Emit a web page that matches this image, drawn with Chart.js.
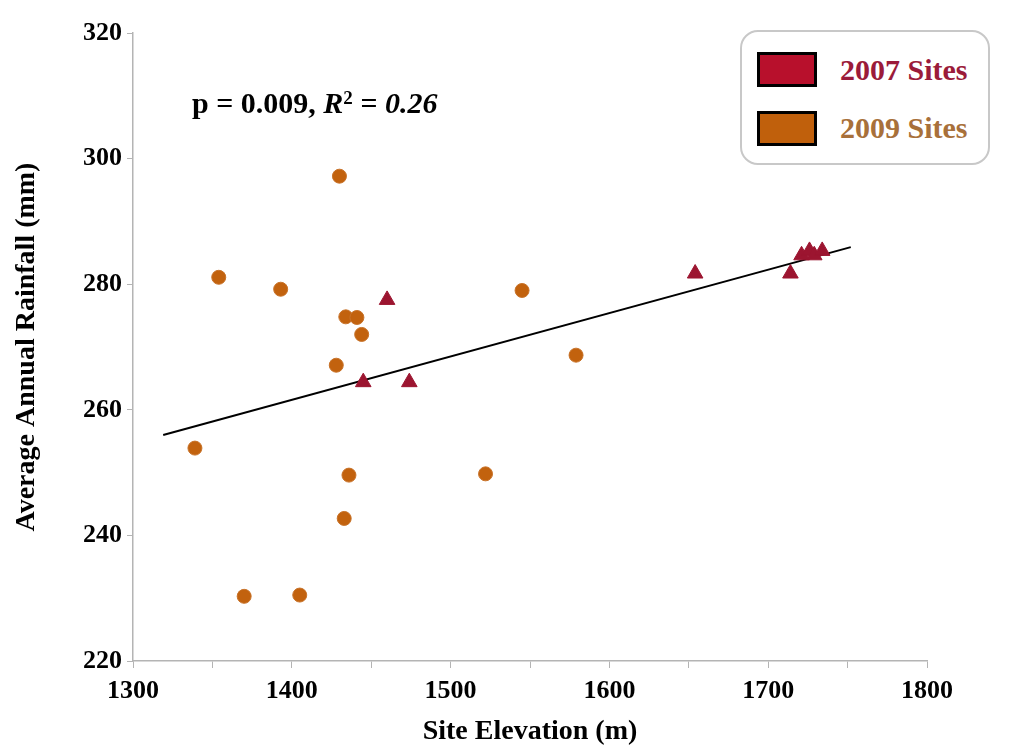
<!DOCTYPE html>
<html>
<head>
<meta charset="utf-8">
<script src="https://cdn.jsdelivr.net/npm/chart.js@4.4.1/dist/chart.umd.min.js"></script>
<style>
  body { margin: 0; background: #fff; }
  #wrap { position: relative; width: 1013px; height: 749px; }
  .serif { font-family: 'Liberation Serif', 'Times New Roman', serif; font-weight: bold; }
  #stats { position: absolute; left: 192px; top: 80px; font-size: 30px; line-height: 36px; color: #000; white-space: nowrap; }
  #legend { position: absolute; left: 740px; top: 30px; width: 246px; height: 131px;
            border: 2px solid #c8c8c8; border-radius: 18px; background: #fff; }
  .sw { position: absolute; left: 15px; width: 54px; height: 29px; border: 3px solid #000; }
  .lt { position: absolute; left: 98px; font-size: 30px; line-height: 36px; white-space: nowrap; }
</style>
</head>
<body>
<div id="wrap">
  <canvas id="chart" width="1013" height="749"></canvas>
  <div id="stats" class="serif">p = 0.009, <i>R</i><sup style="font-size:19px;vertical-align:9px">2</sup> <i>= 0.26</i></div>
  <div id="legend" class="serif">
    <div class="sw" style="top:20px;background:#b8102c"></div>
    <div class="lt" style="top:20px;color:#9b1b3a">2007 Sites</div>
    <div class="sw" style="top:79px;background:#c0600c"></div>
    <div class="lt" style="top:78px;color:#a8703a">2009 Sites</div>
  </div>
</div>
<script>
// site elevation (m) and average annual rainfall (mm)
const elev2009 = [1339, 1354, 1370, 1393, 1405, 1428, 1430, 1433, 1434, 1436, 1441, 1444, 1522, 1545, 1579];
const rain2009 = [253.9, 281.1, 230.3, 279.2, 230.5, 267.1, 297.2, 242.7, 274.8, 249.6, 274.7, 272.0, 249.8, 279.0, 268.7];

const elev2007 = [1445, 1460, 1474, 1654, 1714, 1721, 1726, 1729, 1734];
const rain2007 = [264.4, 277.5, 264.4, 281.7, 281.7, 284.6, 285.3, 284.6, 285.3];

// fitted regression line end points
const trendX = [1319, 1752];
const trendY = [256.0, 285.9];

const xTicks = [1300, 1400, 1500, 1600, 1700, 1800];
const yTicks = [220, 240, 260, 280, 300, 320];

const pts = (xs, ys) => xs.map((x, i) => ({ x: x, y: ys[i] }));
const fam = "'Liberation Serif', 'Times New Roman', serif";
const tickFont = { family: fam, size: 26, weight: 'bold' };
const axisGrey = '#b4b4b4';

new Chart(document.getElementById('chart'), {
    type: 'scatter',
    data: {
        datasets: [
            {
                label: '2009 Sites',
                data: pts(elev2009, rain2009),
                pointStyle: 'circle',
                pointRadius: 7,
                backgroundColor: '#c2620e',
                borderColor: '#c8732a',
                borderWidth: 1
            },
            {
                label: '2007 Sites',
                data: pts(elev2007, rain2007),
                pointStyle: 'triangle',
                pointRadius: 9,
                backgroundColor: '#9c1530',
                borderColor: '#9c1530',
                borderWidth: 1
            },
            {
                type: 'line',
                label: 'fit',
                data: pts(trendX, trendY),
                borderColor: '#000',
                borderWidth: 2,
                pointRadius: 0,
                fill: false
            }
        ]
    },
    options: {
        responsive: false,
        animation: false,
        layout: { padding: { left: 0, top: 33, right: 86, bottom: 0 } },
        plugins: {
            legend: { display: false },
            tooltip: { enabled: false }
        },
        scales: {
            x: {
                type: 'linear',
                min: 1300,
                max: 1800,
                afterFit: s => { s.height = 88; },
                ticks: {
                    stepSize: 50,
                    autoSkip: false,
                    maxRotation: 0,
                    padding: 8,
                    color: '#000',
                    font: tickFont,
                    callback: v => xTicks.includes(v) ? String(v) : ''
                },
                grid: { drawOnChartArea: false, drawTicks: true, tickLength: 7, color: axisGrey },
                border: { color: axisGrey, width: 1.5 },
                title: {
                    display: true,
                    text: 'Site Elevation (m)',
                    color: '#000',
                    font: { family: fam, size: 28, weight: 'bold' },
                    padding: { top: 0, bottom: 0 }
                }
            },
            y: {
                min: 220,
                max: 320,
                afterFit: s => { s.width = 133; },
                ticks: {
                    stepSize: 20,
                    padding: 5,
                    color: '#000',
                    font: tickFont,
                    callback: v => yTicks.includes(v) ? String(v) : ''
                },
                grid: { drawOnChartArea: false, drawTicks: true, tickLength: 6, color: axisGrey },
                border: { color: axisGrey, width: 1.5 },
                title: {
                    display: true,
                    text: 'Average Annual Rainfall (mm)',
                    color: '#000',
                    font: { family: fam, size: 28, weight: 'bold' },
                    padding: { top: 10, bottom: 0 }
                }
            }
        }
    }
});
</script>
</body>
</html>
